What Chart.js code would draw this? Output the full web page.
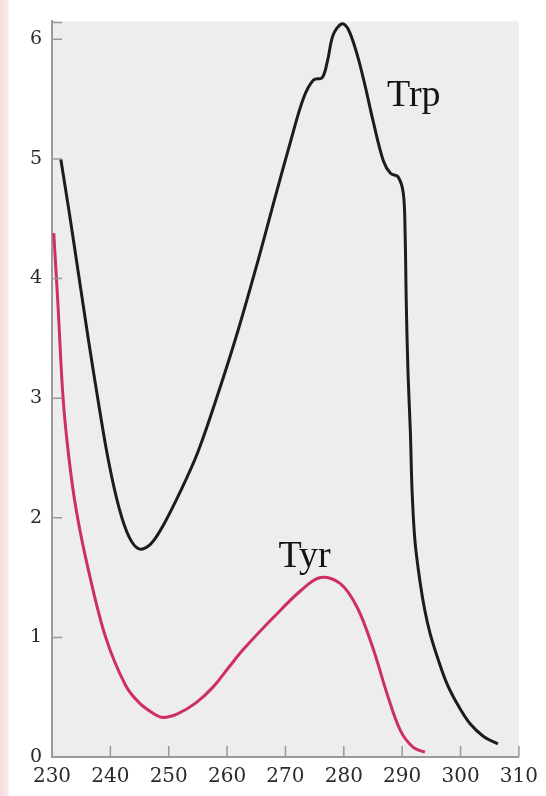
<!DOCTYPE html>
<html>
<head>
<meta charset="utf-8">
<script src="https://cdn.jsdelivr.net/npm/chart.js@4/dist/chart.umd.min.js"></script>
<style>
  html, body { margin: 0; padding: 0; background: #fff; }
  #wrap {
    width: 546px; height: 796px;
    background: linear-gradient(to right, #f5dcdc 0, #f8e8e8 7px, #ffffff 10px);
  }
</style>
</head>
<body>
<div id="wrap"><canvas id="chart" width="546" height="796"></canvas></div>
<script>
// Absorbance spectra (wavelength nm, absorbance)
const trpX = [231.5, 232.9, 234.6, 236.3, 238.0, 239.7, 241.5, 243.2, 244.9, 246.9, 249.1, 252.0,
              255.0, 258.4, 261.9, 265.3, 267.9, 270.9, 273.1, 274.8, 276.3, 277.2, 278.2, 279.7,
              280.8, 282.3, 283.7, 285.0, 286.8, 288.0, 289.3, 290.2, 290.5, 290.7, 291.0, 291.4,
              291.7, 292.2, 293.1, 293.9, 294.8, 296.2, 297.7, 299.6, 301.6, 304.0, 306.4];
const trpY = [5.00, 4.57, 4.02, 3.47, 2.95, 2.47, 2.08, 1.84, 1.74, 1.78, 1.94, 2.22,
              2.55, 3.03, 3.57, 4.15, 4.62, 5.15, 5.51, 5.66, 5.68, 5.82, 6.04, 6.13,
              6.08, 5.87, 5.60, 5.32, 4.98, 4.88, 4.85, 4.71, 4.38, 3.80, 3.21, 2.72,
              2.22, 1.80, 1.45, 1.22, 1.03, 0.81, 0.61, 0.43, 0.28, 0.17, 0.11];

const tyrX = [230.3, 231.0, 231.9, 232.9, 234.2, 236.3, 239.2, 242.6, 245.0, 247.5, 249.0, 251.5,
              254.6, 257.5, 260.3, 262.8, 268.0, 272.6, 276.0, 279.4, 282.3, 285.0, 287.4, 289.7,
              291.9, 293.9];
const tyrY = [4.38, 3.80, 3.00, 2.50, 2.05, 1.55, 1.00, 0.60, 0.45, 0.36, 0.33, 0.36,
              0.45, 0.58, 0.75, 0.90, 1.17, 1.39, 1.50, 1.45, 1.25, 0.91, 0.53, 0.22,
              0.08, 0.04];

const yTicks = [0, 1, 2, 3, 4, 5, 6];

// curve names written in the plot
const curveNames = ['Trp', 'Tyr'];
const nameX = [287.4, 268.8];
const nameY = [5.44, 1.59];

function toPoints(xs, ys) {
    return xs.map((x, i) => ({ x: x, y: ys[i] }));
}

// gray plot background
const plotBg = {
    id: 'plotBg',
    beforeDraw(chart) {
        const a = chart.chartArea, ctx = chart.ctx;
        ctx.save();
        ctx.fillStyle = '#ededed';
        ctx.fillRect(a.left, a.top, a.right - a.left, a.bottom - a.top);
        ctx.restore();
    }
};

// short tick marks pointing into the plot
const innerTicks = {
    id: 'innerTicks',
    afterDraw(chart) {
        const ctx = chart.ctx, a = chart.chartArea;
        const xs = chart.scales.x, ys = chart.scales.y;
        ctx.save();
        ctx.strokeStyle = '#999';
        ctx.lineWidth = 1.5;
        ctx.beginPath();
        xs.ticks.forEach(t => {
            if (t.value === xs.min) return;
            const px = xs.getPixelForValue(t.value);
            ctx.moveTo(px, a.bottom);
            ctx.lineTo(px, a.bottom - 11);
        });
        ys.ticks.forEach(t => {
            if (t.value === ys.min) return;
            const py = ys.getPixelForValue(t.value);
            ctx.moveTo(a.left, py);
            ctx.lineTo(a.left + 10, py);
        });
        ctx.moveTo(a.left, a.top + 1);
        ctx.lineTo(a.left + 10, a.top + 1);
        ctx.stroke();
        ctx.restore();
    }
};

const curveLabels = {
    id: 'curveLabels',
    afterDatasetsDraw(chart) {
        const ctx = chart.ctx;
        ctx.save();
        ctx.font = '38px "Liberation Serif", "DejaVu Serif", serif';
        ctx.fillStyle = '#141414';
        ctx.textAlign = 'left';
        ctx.textBaseline = 'alphabetic';
        curveNames.forEach((n, i) => {
            ctx.fillText(n, chart.scales.x.getPixelForValue(nameX[i]), chart.scales.y.getPixelForValue(nameY[i]));
        });
        ctx.restore();
    }
};

new Chart(document.getElementById('chart'), {
    type: 'line',
    data: {
        datasets: [{
            label: 'Trp',
            data: toPoints(trpX, trpY),
            borderColor: '#1c1c1c',
            borderWidth: 3,
            pointRadius: 0,
            tension: 0.35
        }, {
            label: 'Tyr',
            data: toPoints(tyrX, tyrY),
            borderColor: '#cf2d68',
            borderWidth: 3,
            pointRadius: 0,
            tension: 0.35
        }]
    },
    options: {
        responsive: false,
        animation: false,
        layout: { padding: { top: 16, right: 27, left: 0, bottom: 0 } },
        plugins: { legend: { display: false }, tooltip: { enabled: false } },
        scales: {
            x: {
                type: 'linear',
                min: 230,
                max: 310,
                grid: { display: false, drawTicks: false },
                border: { display: true, color: '#9a9a9a', width: 2 },
                ticks: {
                    stepSize: 10,
                    padding: 8,
                    maxRotation: 0,
                    color: '#2a2a2a',
                    font: { family: '"DejaVu Serif", serif', size: 20 }
                },
                afterFit: s => { s.height = 39; }
            },
            y: {
                min: 0,
                max: 6.15,
                grid: { display: false, drawTicks: false },
                border: { display: true, color: '#9a9a9a', width: 2 },
                ticks: {
                    padding: 10,
                    color: '#2a2a2a',
                    font: { family: '"DejaVu Serif", serif', size: 19 }
                },
                afterBuildTicks: s => { s.ticks = yTicks.map(v => ({ value: v })); },
                afterFit: s => { s.width = 52; }
            }
        }
    },
    plugins: [plotBg, innerTicks, curveLabels]
});
</script>
</body>
</html>
